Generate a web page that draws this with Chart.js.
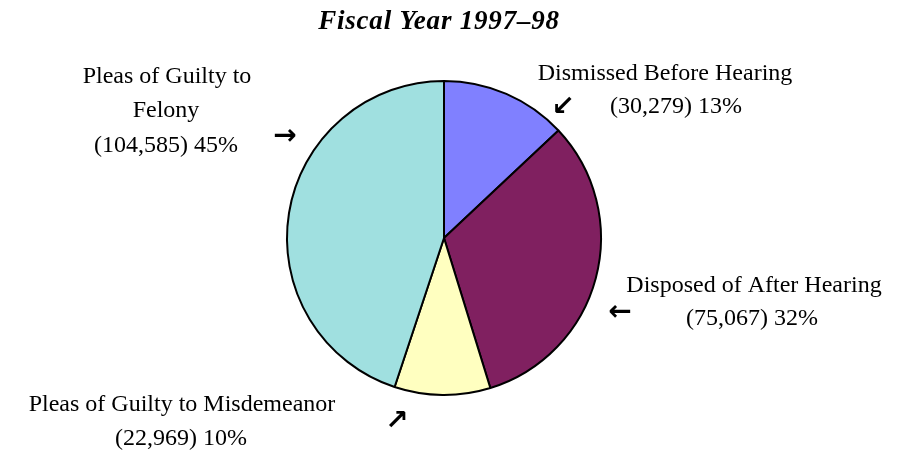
<!DOCTYPE html>
<html>
<head>
<meta charset="utf-8">
<script src="https://cdn.jsdelivr.net/npm/chart.js@4/dist/chart.umd.min.js"></script>
<style>
  html, body { margin: 0; padding: 0; background: #fff; }
  #wrap { width: 901px; height: 455px; }
</style>
</head>
<body>
<div id="wrap"><canvas id="dispositions"></canvas></div>
<script>
const categories = [
  'Dismissed Before Hearing',
  'Disposed of After Hearing',
  'Pleas of Guilty to Misdemeanor',
  'Pleas of Guilty to Felony'
];
const caseCounts = [30279, 75067, 22969, 104585];
const sliceColors = ['#8080FF', '#802060', '#FFFFC0', '#A0E0E0'];

// label blocks: text lines, centre x of each line, baselines, arrow glyph and its centre
const labelLayout = [
  { lines: ['Dismissed Before Hearing'], cx: [665, 676], y: [80, 113], arrow: '\u2199', ax: 563, ay: 108 },
  { lines: ['Disposed of After Hearing'], cx: [754, 752], y: [292, 325], arrow: '\u2190', ax: 620, ay: 313 },
  { lines: ['Pleas of Guilty to Misdemeanor'], cx: [182, 181], y: [411, 445], arrow: '\u2197', ax: 397, ay: 422 },
  { lines: ['Pleas of Guilty to', 'Felony'], cx: [167, 166, 166], y: [83, 117, 152], arrow: '\u2192', ax: 285, ay: 137 }
];

const total = caseCounts.reduce((a, b) => a + b, 0);

const pieLabels = {
  id: 'pieLabels',
  afterDraw(chart) {
    const ctx = chart.ctx;
    ctx.save();
    ctx.fillStyle = '#000';
    ctx.textAlign = 'center';
    ctx.textBaseline = 'alphabetic';

    ctx.font = 'italic bold 27px "Liberation Serif", "Times New Roman", serif';
    ctx.letterSpacing = '0.8px';
    ctx.fillText('Fiscal Year 1997\u201398', 439, 29);
    ctx.letterSpacing = '0px';

    caseCounts.forEach((v, i) => {
      const lay = labelLayout[i];
      const pct = Math.round(v / total * 100);
      const rows = lay.lines.concat(['(' + v.toLocaleString('en-US') + ') ' + pct + '%']);
      ctx.textBaseline = 'alphabetic';
      ctx.font = '24px "Liberation Serif", "Times New Roman", serif';
      rows.forEach((t, j) => ctx.fillText(t, lay.cx[j], lay.y[j]));
      ctx.textBaseline = 'middle';
      ctx.font = 'bold 28px "DejaVu Sans", sans-serif';
      ctx.fillText(lay.arrow, lay.ax, lay.ay);
    });
    ctx.restore();
  }
};

new Chart(document.getElementById('dispositions'), {
  type: 'pie',
  data: {
    labels: categories,
    datasets: [{
      data: caseCounts,
      backgroundColor: sliceColors,
      borderColor: '#000',
      borderWidth: 2,
      hoverOffset: 0
    }]
  },
  options: {
    responsive: true,
    maintainAspectRatio: false,
    animation: false,
    layout: { padding: { top: 80, bottom: 59, left: 0, right: 13 } },
    plugins: {
      legend: { display: false },
      title: { display: false },
      tooltip: { enabled: false }
    }
  },
  plugins: [pieLabels]
});
</script>
</body>
</html>
